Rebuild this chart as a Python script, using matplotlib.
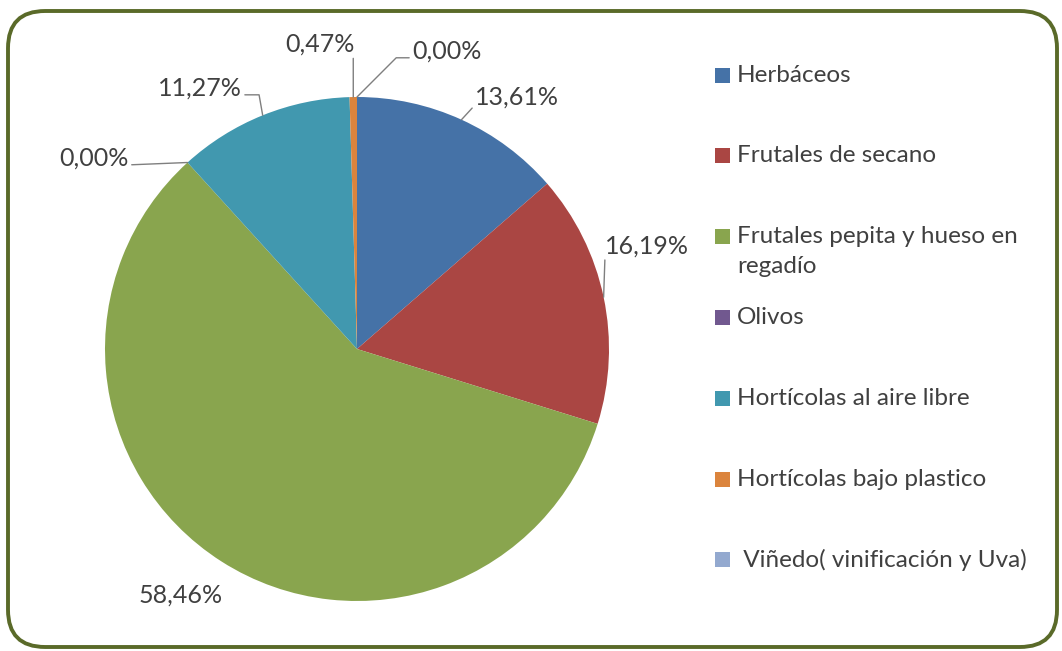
import matplotlib
matplotlib.use("Agg")
import matplotlib.pyplot as plt
from matplotlib.patches import FancyBboxPatch, Rectangle
import numpy as np

categories = [
    "Herbáceos",
    "Frutales de secano",
    "Frutales pepita y hueso en\nregadío",
    "Olivos",
    "Hortícolas al aire libre",
    "Hortícolas bajo plastico",
    " Viñedo( vinificación y Uva)",
]
shares = [13.61, 16.19, 58.46, 0.00, 11.27, 0.47, 0.00]
colors = ["#4572A7", "#AA4643", "#89A54E", "#71588F", "#4198AF", "#DB843D", "#93A9CF"]

# label placement (axes data units, pie radius = 1) and leader line styles
label_pos = [(0.468, 1.00), (0.984, 0.41), (-0.698, -0.976), (-0.905, 0.758),
             (-0.456, 1.036), (-0.147, 1.21), (0.218, 1.183)]
label_ha = ["left", "left", "center", "right", "right", "center", "left"]
leader_rel = [(0.0, 0.15), (0.0, 0.0), None, (1.0, 0.2), (1.0, 0.2), (0.98, 0.0), (0.0, 0.2)]
leader_conn = ["arc3", "arc3", None, "arc3",
               "angle,angleA=0,angleB=100,rad=0", "arc3",
               "angle,angleA=180,angleB=45,rad=0"]

W, H = 1062, 651
fig = plt.figure(figsize=(W / 100, H / 100), dpi=100)
plt.rcParams["font.family"] = ["Lato", "DejaVu Sans"]

# rounded chart border
border = FancyBboxPatch((8 / W, 4 / H), 1049 / W, 636 / H,
                        boxstyle="round,pad=0,rounding_size=0.035",
                        transform=fig.transFigure, facecolor="none",
                        edgecolor="#5A6A29", linewidth=2.8, mutation_aspect=W / H,
                        zorder=5)
fig.patches.append(border)

cx, cy, r = 357, 349, 252
ax = fig.add_axes([(cx - r) / W, (H - cy - r) / H, 2 * r / W, 2 * r / H])
wedges, _ = ax.pie(shares, colors=colors, startangle=90, counterclock=False,
                   radius=1, wedgeprops=dict(linewidth=0))
ax.set_xlim(-1, 1)
ax.set_ylim(-1, 1)
ax.set_aspect("equal")
ax.axis("off")

txt_color = "#404040"
fs = 18
for w, val, pos, ha, rel, conn in zip(wedges, shares, label_pos, label_ha,
                                      leader_rel, leader_conn):
    mid = np.deg2rad((w.theta1 + w.theta2) / 2)
    anchor = (np.cos(mid), np.sin(mid))
    label = f"{val:.2f}%".replace(".", ",")
    if rel is None:
        ax.text(pos[0], pos[1], label, ha=ha, va="center", fontsize=fs,
                color=txt_color, clip_on=False)
        continue
    ax.annotate(label, xy=anchor, xytext=pos, ha=ha, va="center", fontsize=fs,
                color=txt_color, annotation_clip=False,
                arrowprops=dict(arrowstyle="-", color="#7f7f7f", lw=1.0,
                                shrinkA=0, shrinkB=0, relpos=rel,
                                connectionstyle=conn))

# legend, Excel style: evenly spaced rows, wrapped label spills into the gap
leg_top, leg_step, line_h = 75, 80.8, 30
for i, (name, col) in enumerate(zip(categories, colors)):
    y = leg_top + i * leg_step
    fig.patches.append(Rectangle((715 / W, 1 - (y + 7.5) / H), 15 / W, 15 / H,
                                 transform=fig.transFigure, facecolor=col,
                                 edgecolor="none"))
    for k, line in enumerate(name.split("\n")):
        fig.text(737 / W, 1 - (y + k * line_h) / H, line, ha="left", va="center",
                 fontsize=17.5, color=txt_color)

fig.savefig("out.png", dpi=100)
